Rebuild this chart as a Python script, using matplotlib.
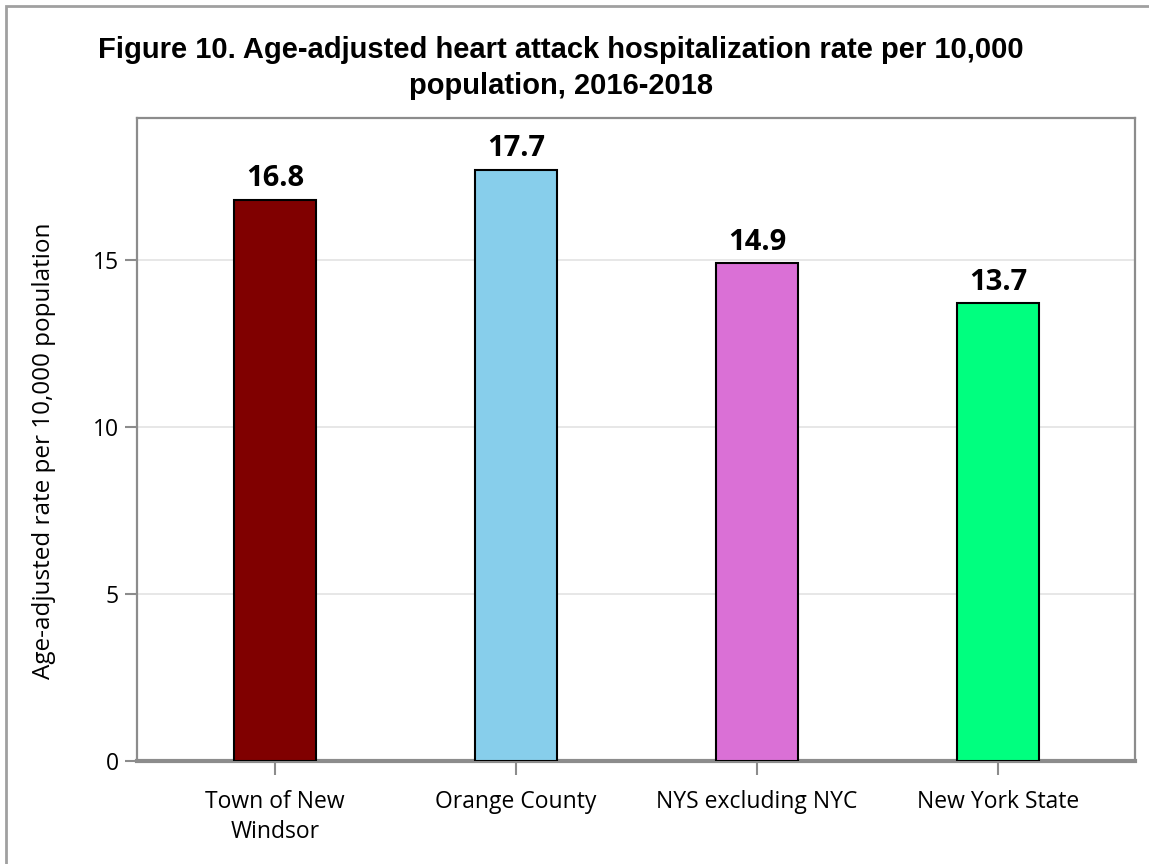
import matplotlib.pyplot as plt
from matplotlib.patches import Rectangle

# data
categories = ['Town of New\nWindsor', 'Orange County', 'NYS excluding NYC', 'New York State']
rates = [16.8, 17.7, 14.9, 13.7]
bar_colors = ['#800000', '#87CEEB', '#DA70D6', '#00FF7F']
yticks = [0, 5, 10, 15]

title = 'Figure 10. Age-adjusted heart attack hospitalization rate per 10,000\npopulation, 2016-2018'
ylabel = 'Age-adjusted rate per 10,000 population'

W, H = 1149, 864
fig = plt.figure(figsize=(W / 100, H / 100), dpi=100)

# outer frame (only left and top show in the reference)
fig.patches.append(Rectangle((6 / W, -0.05), 1.2, 1 - 6 / H + 0.05,
                             transform=fig.transFigure, fill=False,
                             edgecolor='#a0a0a0', linewidth=2))

ax = fig.add_axes([137 / W, 1 - 761 / H, (1135 - 137) / W, (761 - 118) / H])

x = list(range(len(categories)))
ax.bar(x, rates, width=0.34, color=bar_colors, edgecolor='black', linewidth=1.5, zorder=3)

for xi, v in zip(x, rates):
    ax.text(xi, v + 0.2, f'{v:.1f}', ha='center', va='bottom',
            fontsize=21, fontweight='bold', family='Open Sans')

ax.set_xlim(-0.572, 3.568)
ax.set_ylim(0, 19.25)
ax.set_yticks(yticks)
ax.set_xticks(x)
ax.set_xticklabels(categories, family='Open Sans', fontsize=16.5, linespacing=1.35)
ax.set_yticklabels([str(t) for t in yticks], family='Open Sans', fontsize=16.5)
ax.grid(axis='y', color='#e3e3e3', linewidth=1.2, zorder=0)

for side in ['top', 'right', 'left']:
    ax.spines[side].set_color('#8c8c8c')
    ax.spines[side].set_linewidth(1.6)
ax.spines['bottom'].set_color('#8c8c8c')
ax.spines['bottom'].set_linewidth(3)

ax.tick_params(axis='y', length=9, width=1.5, color='#8c8c8c', pad=4)
ax.tick_params(axis='x', length=10, width=1.5, color='#8c8c8c', pad=11)

ax.set_ylabel(ylabel, family='Open Sans', fontsize=17.5)
ax.yaxis.set_label_coords((56 - 137) / (1135 - 137), (761 - 451) / (761 - 118))

fig.text(561 / W, 1 - 68 / H, title, ha='center', va='center',
         fontsize=21, fontweight='bold', family='Liberation Sans', linespacing=1.35)

fig.savefig('out.png', dpi=100)
